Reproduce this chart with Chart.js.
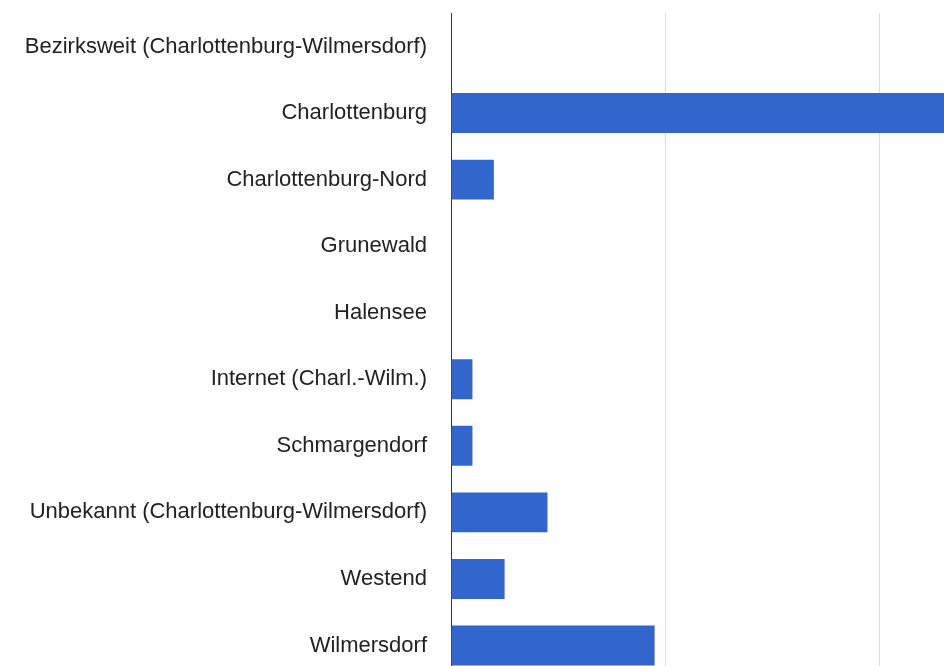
<!DOCTYPE html>
<html>
<head>
<meta charset="utf-8">
<script src="https://cdn.jsdelivr.net/npm/chart.js@4"></script>
<style>
  html, body { margin: 0; padding: 0; background: #fff; overflow: hidden; }
  #wrap { width: 944px; height: 666px; overflow: hidden; }
  #box { width: 944px; height: 692px; position: relative; }
</style>
</head>
<body>
<div id="wrap"><div id="box"><canvas id="myChart"></canvas></div></div>
<script>
// categorias (ortsteile)
const districts = [
  'Bezirksweit (Charlottenburg-Wilmersdorf)',
  'Charlottenburg',
  'Charlottenburg-Nord',
  'Grunewald',
  'Halensee',
  'Internet (Charl.-Wilm.)',
  'Schmargendorf',
  'Unbekannt (Charlottenburg-Wilmersdorf)',
  'Westend',
  'Wilmersdorf'
];
// werte
const counts = [0, 57, 4, 0, 0, 2, 2, 9, 5, 19];
// sichtbarer bereich der x-achse (rechts abgeschnitten)
const xMin = 0;
const xMax = 46;
const xStep = 20;

const ctx = document.getElementById('myChart').getContext('2d');

const myChart = new Chart(ctx, {
    type: 'bar',
    data: {
        labels: districts,
        datasets: [{
            data: counts,
            backgroundColor: '#3366cc',
            borderWidth: 0,
            categoryPercentage: 0.6,
            barPercentage: 1
        }]
    },
    options: {
        indexAxis: 'y',
        responsive: true,
        maintainAspectRatio: false,
        animation: false,
        layout: { padding: { top: 12, right: 0, bottom: 0, left: 0 } },
        plugins: {
            legend: { display: false },
            tooltip: { enabled: false }
        },
        scales: {
            x: {
                min: xMin,
                max: xMax,
                ticks: { display: false, stepSize: xStep },
                border: { display: false },
                grid: {
                    drawTicks: false,
                    color: c => (c.tick && c.tick.value % xStep === 0 && c.tick.value !== 0) ? '#dcdcdc' : 'rgba(0,0,0,0)'
                }
            },
            y: {
                grid: { display: true, drawOnChartArea: false, drawTicks: true, tickLength: 24, color: 'rgba(0,0,0,0)' },
                border: { display: true, color: '#333', width: 1 },
                ticks: {
                    padding: 0,
                    color: '#222',
                    font: { family: 'Liberation Sans, Arial, sans-serif', size: 22 }
                },
                afterFit: s => { s.width = 451; }
            }
        }
    }
});
</script>
</body>
</html>
